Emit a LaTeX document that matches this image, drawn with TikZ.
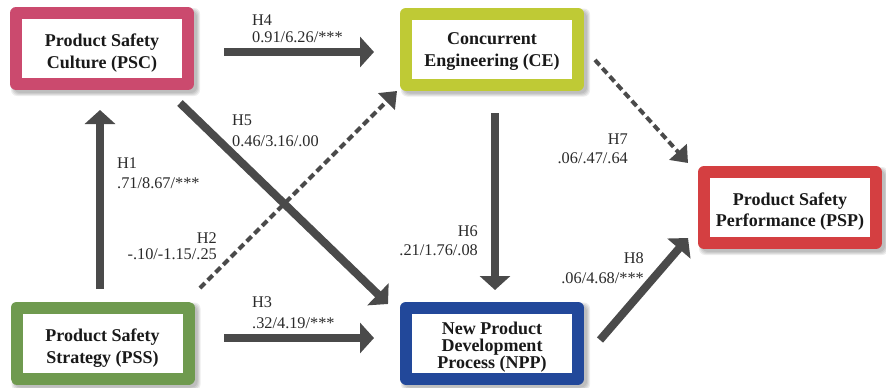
\documentclass[tikz,border=0pt]{standalone}
\usepackage{fontspec}
\setmainfont{Liberation Serif}
\usetikzlibrary{arrows.meta,calc,backgrounds}

\definecolor{cPSC}{HTML}{CB4A6E}
\definecolor{cCE}{HTML}{BFCA35}
\definecolor{cPSS}{HTML}{6F9A4F}
\definecolor{cNPP}{HTML}{22489A}
\definecolor{cPSP}{HTML}{D43F41}
\definecolor{arrowgrey}{HTML}{4A4A4A}
\definecolor{labelgrey}{HTML}{2A2A2A}

\tikzset{
  factor/.style={draw=#1, line width=12pt, line join=round, fill=white,
    minimum width=172pt, minimum height=71pt, inner sep=0pt},
  factortext/.style={font=\fontsize{18}{21.5}\selectfont\bfseries, align=center,
    text=black!90, inner sep=0pt},
  tightfactortext/.style={factortext, font=\fontsize{18}{17}\selectfont\bfseries},
  strongpath/.style={draw=arrowgrey, line width=8pt,
    -{Triangle[length=14pt,width=30pt]}},
  weakpath/.style={draw=arrowgrey, line width=4pt, dash pattern=on 7pt off 4pt,
    -{Triangle[length=15pt,width=23pt]}},
  est/.style={font=\fontsize{16.3}{17}\selectfont, text=labelgrey, inner sep=0pt},
}

% soft drop shadow under a factor box
\newcommand\factorshadow[1]{%
  \foreach \e in {0,1,2,3}{%
    \fill[black, opacity=0.07, rounded corners=6pt]
      ($(#1.north west)+(4-\e,4-\e)$) rectangle ($(#1.south east)+(3+\e,3+\e)$);
  }}

\begin{document}
\begin{tikzpicture}[x=1pt, y=-1pt]
  \useasboundingbox (0,0) rectangle (886,388);

  % factor boxes
  \node[factor=cPSC] (psc) at (102,48.5) {};
  \node[factor=cCE]  (ce)  at (492,49) {};
  \node[factor=cPSS] (pss) at (102.5,343) {};
  \node[factor=cNPP] (npp) at (492,343) {};
  \node[factor=cPSP] (psp) at (790,207.5) {};

  \begin{scope}[on background layer]
    \factorshadow{psc}
    \factorshadow{ce}
    \factorshadow{pss}
    \factorshadow{npp}
    \factorshadow{psp}
  \end{scope}

  % factor names
  \node[factortext] (psct) at ($(psc.center)+(0,4.5)$) {Product Safety\\Culture (PSC)};
  \node[factortext] (cet)  at ($(ce.center)+(0,2.5)$)  {Concurrent\\Engineering (CE)};
  \node[factortext] (psst) at ($(pss.center)+(0,5)$)   {Product Safety\\Strategy (PSS)};
  \node[tightfactortext] (nppt) at ($(npp.center)+(0,4)$) {New Product\\Development\\Process (NPP)};
  \node[factortext] (pspt) at ($(psp.center)+(0,4)$)   {Product Safety\\Performance (PSP)};

  % hypothesised paths
  \draw[strongpath] ($(pss.center)+(-2.5,-54)$) -- ($(psc.center)+(-2,61.5)$);   % H1
  \draw[weakpath]   ($(pss.center)+(97.5,-55)$) -- ($(ce.center)+(-95,42)$);     % H2
  \draw[strongpath] ($(pss.center)+(121.5,-5)$) -- ($(npp.center)+(-118,-5)$);   % H3
  \draw[strongpath] ($(psc.center)+(122,3.5)$)  -- ($(ce.center)+(-118,3)$);     % H4
  \draw[strongpath] ($(psc.center)+(78,54.5)$)  -- ($(npp.center)+(-104,-39)$);  % H5
  \draw[strongpath] ($(ce.center)+(3,64)$)      -- ($(npp.center)+(3,-53)$);     % H6
  \draw[weakpath]   ($(ce.center)+(103,11)$)    -- ($(psp.center)+(-102,-44.5)$);% H7
  \draw[strongpath] ($(npp.center)+(108,-3)$)   -- ($(psp.center)+(-102,30.5)$); % H8

  % path estimates (anchored at the baseline of the value line)
  \node[est, anchor=base west, align=left]  (h1) at (117,188) {H1\\[3pt].71/8.67/***};
  \node[est, anchor=base east, align=right] (h2) at (217,259) {H2\\[-1pt]-.10/-1.15/.25};
  \node[est, anchor=base west, align=left]  (h3) at (252,328) {H3\\[4pt].32/4.19/***};
  \node[est, anchor=base west, align=left]  (h4) at (252,42)  {H4\\0.91/6.26/***};
  \node[est, anchor=base west, align=left]  (h5) at (232,146) {H5\\[4pt]0.46/3.16/.00};
  \node[est, anchor=base east, align=right] (h6) at (478,255) {H6\\[2pt].21/1.76/.08};
  \node[est, anchor=base east, align=right] (h7) at (628,163) {H7\\[2pt].06/.47/.64};
  \node[est, anchor=base east, align=right] (h8) at (644,283) {H8\\[3pt].06/4.68/***};
\end{tikzpicture}
\end{document}
